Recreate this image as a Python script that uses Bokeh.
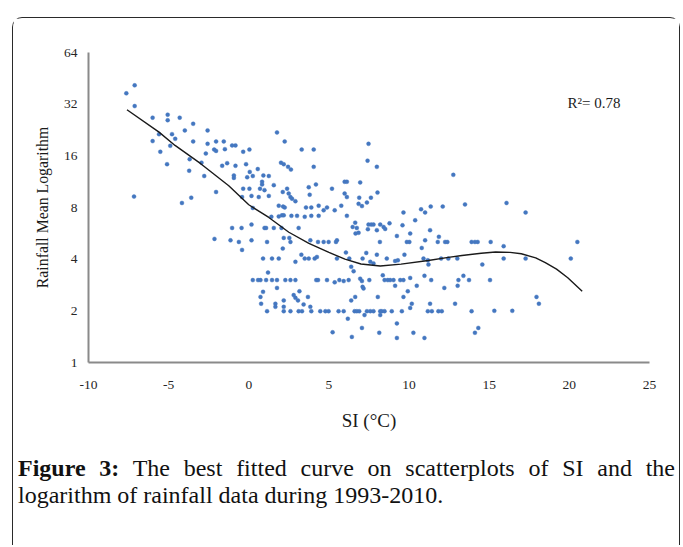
from bokeh.plotting import figure
from bokeh.layouts import column
from bokeh.models import Range1d, FixedTicker, Label, PrintfTickFormatter, Div
from bokeh.embed import file_html
from bokeh.resources import INLINE

# ---- data ----
si = [
    -7.12, -7.64, -7.12, -6.0, -5.06, -5.06, -4.31, -3.47, -3.99, -2.57,
    -6.0, -5.6, -4.79, -4.59, -4.9, -3.47, -2.57, -2.04, -1.56, -5.52,
    -3.69, -2.16, -2.04, -1.49, -2.68, -2.95, -5.1, -3.72, -2.78, -1.66,
    -1.35, -2.04, -7.16, -3.59, -4.17, -2.14,
    1.76, 2.24, -1.04, -0.83, -0.35, 0.04, 3.30, 4.05, 2.01, 2.18,
    2.45, 2.63, 4.05, -0.83, -0.17, -0.93, -0.93, 0.06, 0.25, -0.10,
    0.56, 0.91, 1.25, 0.83, 0.83, 0.70, 0.98, -0.35, 0.04, 1.56,
    0.17, 0.62, 1.25, -0.42, 2.39, 2.49, 2.60, 2.70, 2.12, 3.74,
    4.19, 2.91, 3.80, 1.87, 2.14, 2.24, 3.57, 3.90, 4.36, 4.67,
    4.88, 5.36, 5.77, 5.19, 5.98, 6.12, 5.98, 6.12, 6.12, 0.25,
    1.41, 1.87, 2.07, 2.18, 2.66, 3.01, 3.49, 3.90, 4.36, -1.04,
    -0.45, 0.17, 0.98, 1.08, 1.56, 2.04, 3.11, 2.18, 2.53, 2.60,
    -1.14, -0.62, 0.17, 1.14, -0.42, 2.12, 3.84, 4.32, 4.67, 4.98,
    5.44, 5.50, 0.89, 1.45, 1.87, 2.91, 3.28, 3.49, 3.74, 4.11,
    4.25, 5.50, 6.06, 6.27, 6.39, 1.20, 0.25, 0.58, 0.73, 1.08,
    1.45, 1.76, 2.28, 2.60, 2.91, 4.21, 4.32, 4.88, 5.36, 5.65,
    5.92, 1.76, 0.89, 3.16, 0.73, 2.80, 2.91, 3.07, 3.69, 2.18,
    1.66, 1.66, 3.42, 0.77, 6.39, 1.14, 2.18, 2.18, 2.60, 3.11,
    3.32, 3.84, 3.90, 4.46, 4.78, 4.98, 5.60, 5.92, 6.18, 5.23,
    6.43,
    7.47, 7.41, 7.99, 6.95, 6.89, 7.62, 6.85, 7.06, 7.37, 8.03,
    12.76, 13.49, 10.75, 11.00, 11.35, 12.10, 9.65, 10.38, 6.64, 6.74,
    6.48, 6.85, 6.66, 7.47, 7.64, 7.78, 7.43, 7.99, 8.20, 8.41,
    8.51, 8.78, 9.59, 9.24, 10.07, 11.31, 8.18, 9.86, 10.02, 11.00,
    11.79, 11.86, 12.25, 12.39, 13.90, 10.79, 7.33, 7.99, 9.71, 7.10,
    7.58, 7.78, 8.61, 9.13, 9.30, 10.90, 11.17, 11.21, 12.00, 12.45,
    13.01, 6.54, 6.23, 6.95, 7.06, 7.52, 7.10, 7.16, 8.36, 8.47,
    8.67, 8.82, 9.03, 9.45, 9.65, 10.07, 9.13, 10.48, 10.96, 11.38,
    9.92, 12.20, 13.08, 13.39, 13.74, 13.03, 8.05, 9.65, 10.17, 10.07,
    11.31, 12.87, 6.64, 6.60, 6.74, 6.89, 7.37, 7.58, 7.78, 8.20,
    8.30, 8.47, 8.92, 9.55, 11.17, 11.42, 11.83, 12.04, 13.90, 7.22,
    8.20, 9.24, 7.06, 8.14, 9.24, 10.27, 10.96,
    16.08, 17.27, 14.11, 14.28, 15.09, 15.90, 15.90, 17.27, 20.50, 20.09,
    14.57, 15.05, 17.95, 18.10, 15.32, 16.44, 14.32, 14.11,
]
rain = [
    41.2, 37.0, 31.2, 26.7, 27.8, 25.8, 26.7, 24.6, 22.5, 22.5,
    19.5, 21.4, 21.4, 20.1, 18.3, 19.4, 18.8, 19.4, 19.4, 16.9,
    15.3, 17.4, 17.1, 17.5, 16.5, 14.6, 14.3, 13.1, 12.2, 14.0,
    14.5, 9.85, 9.26, 9.13, 8.5, 5.25,
    21.9, 19.4, 18.4, 18.4, 16.9, 17.4, 17.4, 17.4, 14.6, 14.3,
    13.8, 13.3, 13.8, 14.0, 14.3, 12.3, 11.9, 12.9, 12.2, 12.0,
    13.4, 12.3, 12.2, 11.3, 10.9, 10.3, 10.1, 10.3, 10.3, 10.8,
    9.35, 9.2, 9.35, 9.2, 10.3, 9.65, 9.2, 9.0, 9.85, 10.5,
    10.9, 8.7, 9.5, 8.2, 8.1, 8.0, 8.0, 8.0, 8.2, 7.7,
    8.0, 7.7, 8.2, 10.3, 11.3, 11.3, 9.65, 9.2, 7.15, 7.95,
    7.06, 7.1, 7.2, 7.2, 7.15, 7.15, 7.06, 7.15, 7.15, 6.08,
    6.08, 6.36, 6.08, 6.08, 6.08, 6.08, 6.08, 5.32, 5.32, 5.04,
    5.15, 5.04, 5.15, 5.04, 4.53, 4.61, 5.15, 5.04, 5.04, 5.04,
    5.04, 5.15, 4.03, 4.03, 4.03, 3.86, 4.25, 4.03, 4.03, 4.03,
    4.12, 4.03, 4.37, 4.03, 3.61, 3.34, 3.02, 3.02, 3.02, 3.02,
    3.02, 3.02, 3.02, 3.02, 3.02, 3.02, 3.02, 3.02, 2.93, 3.02,
    2.98, 2.72, 2.58, 2.60, 2.41, 2.47, 2.38, 2.30, 2.41, 2.30,
    2.20, 2.11, 2.18, 2.20, 2.30, 1.99, 2.11, 1.99, 1.99, 1.99,
    1.99, 2.11, 1.99, 1.99, 1.99, 1.99, 1.99, 1.99, 1.80, 1.50,
    1.41,
    18.8, 15.0, 13.8, 11.2, 9.13, 9.13, 8.4, 8.15, 8.55, 9.77,
    12.4, 8.34, 7.81, 7.48, 8.1, 8.1, 7.48, 6.74, 6.53, 6.08,
    6.16, 5.7, 5.65, 6.36, 6.36, 6.36, 5.98, 5.9, 6.36, 6.16,
    6.0, 6.47, 6.3, 5.46, 5.64, 5.9, 5.04, 5.04, 5.04, 5.15,
    5.04, 5.4, 5.04, 5.04, 5.04, 4.65, 4.35, 4.25, 4.25, 4.03,
    3.86, 3.78, 4.03, 3.9, 3.94, 4.03, 3.94, 3.72, 4.03, 4.03,
    4.03, 3.4, 3.02, 3.08, 2.98, 3.02, 2.76, 2.70, 3.22, 3.02,
    3.02, 3.02, 3.02, 3.02, 3.02, 3.11, 2.80, 2.80, 3.2, 3.02,
    2.60, 2.72, 3.02, 3.2, 3.02, 2.80, 2.41, 2.41, 2.20, 2.08,
    2.20, 2.20, 2.41, 1.99, 1.99, 1.99, 1.99, 1.99, 1.99, 1.99,
    1.99, 1.99, 1.99, 1.99, 1.99, 1.99, 1.99, 1.99, 1.99, 1.89,
    1.89, 1.69, 1.59, 1.49, 1.39, 1.49, 1.39,
    8.5, 7.48, 5.04, 5.04, 5.04, 4.76, 4.03, 4.03, 5.04, 4.03,
    3.72, 3.02, 2.41, 2.20, 2.0, 2.0, 1.59, 1.49,
]
fit_si = [-7.6, -5.6, -4.6, -3.0, -1.25, 0.0, 1.25, 2.5, 3.75, 5.0, 6.0, 7.0,
          8.2, 9.5, 11.2, 12.45, 13.3, 14.5, 15.4, 16.3, 17.0, 17.9, 18.5,
          19.2, 19.9, 20.8]
fit_rain = [29.7, 22.0, 18.4, 14.4, 10.7, 8.3, 7.0, 5.74, 4.95, 4.38, 4.0, 3.75,
            3.65, 3.74, 3.93, 4.1, 4.2, 4.33, 4.4, 4.38, 4.3, 4.07, 3.82,
            3.5, 3.12, 2.6]
x_ticks = [-10, -5, 0, 5, 10, 15, 20, 25]
y_ticks = [1, 2, 4, 8, 16, 32, 64]
caption_label = "Figure 3:"
caption_line1 = "The best fitted curve on scatterplots of SI and the"
caption_line2 = "logarithm of rainfall data during 1993-2010."

SERIF = "Liberation Serif"

p = figure(width=666, height=415, output_backend="svg", toolbar_location=None,
           x_range=Range1d(-10, 25), y_range=Range1d(1, 64), y_axis_type="log",
           min_border_left=75, min_border_right=30, min_border_top=34,
           min_border_bottom=71)
p.margin = (0, 0, 0, 0)
p.outline_line_color = None
p.grid.visible = False
p.background_fill_color = "white"
p.border_fill_color = "white"

for ax, ticks in ((p.xaxis, x_ticks), (p.yaxis, y_ticks)):
    ax.ticker = FixedTicker(ticks=ticks)
    ax.formatter = PrintfTickFormatter(format="%d")
    ax.axis_line_color = "#8a8a8a"
    ax.axis_line_width = 2
    ax.major_tick_line_color = None
    ax.minor_tick_line_color = None
    ax.major_tick_out = 0
    ax.major_tick_in = 0
    ax.minor_tick_out = 0
    ax.minor_tick_in = 0
    ax.major_label_text_font = SERIF
    ax.major_label_text_font_size = "13.5px"
    ax.major_label_text_color = "#262626"
    ax.axis_label_text_font = SERIF
    ax.axis_label_text_font_style = "normal"
    ax.axis_label_text_color = "#1a1a1a"

p.xaxis.major_label_standoff = 18
p.yaxis.major_label_standoff = 11
p.xaxis.axis_label = "SI (°C)"
p.xaxis.axis_label_text_font_size = "19px"
p.xaxis.axis_label_standoff = 18
p.yaxis.axis_label = "Rainfall Mean Logarithm"
p.yaxis.axis_label_text_font_size = "15.8px"
p.yaxis.axis_label_standoff = 10

p.scatter(si, rain, size=4, marker="circle", fill_color="#4477c0",
          line_color="#4477c0", line_width=0.4)
p.line(fit_si, fit_rain, line_color="#1a1a1a", line_width=1.4)

p.add_layout(Label(x=479, y=260, x_units="screen", y_units="screen",
                   text="R²= 0.78", text_font=SERIF, text_font_size="15px",
                   text_baseline="middle", text_color="#1a1a1a"))

cap_html = (
    "<div style=\"font-family: 'Liberation Serif', serif; font-size: 24px; "
    "line-height: 27px; color: #111; width: 657px;\">"
    "<div style=\"width: 657px; text-align: justify; text-align-last: justify;\">"
    f"<b>{caption_label}</b> {caption_line1}</div>"
    f"<div style=\"width: 657px;\">{caption_line2}</div></div>"
)
cap = Div(text=cap_html, width=657, height=90, margin=(22, 0, 0, 5))

layout = column(p, cap, margin=(17, 0, 0, 12),
                styles={"border": "1.5px solid #2a2a2a", "border-bottom": "none",
                        "border-radius": "10px 10px 0 0", "background": "white"})

open("out.html", "w").write(file_html(layout, INLINE))
